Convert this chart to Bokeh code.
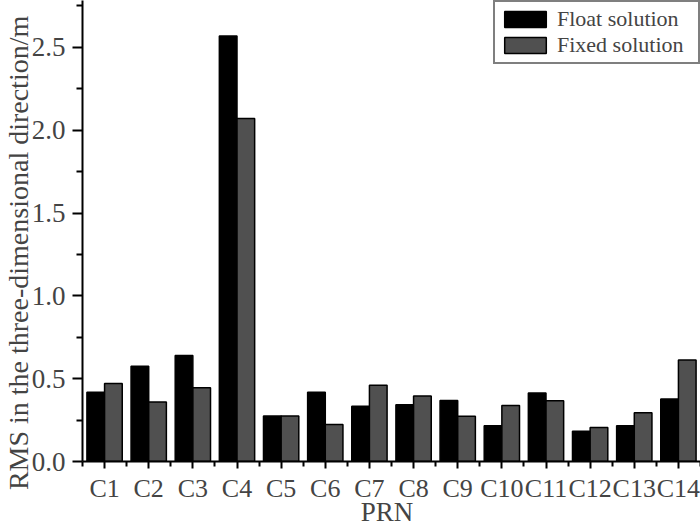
from bokeh.plotting import figure
from bokeh.models import (ColumnDataSource, FixedTicker, Legend, LegendItem,
                          NumeralTickFormatter, LinearAxis)
from bokeh.transform import dodge
from bokeh.embed import file_html
from bokeh.resources import INLINE

prn = ["C1", "C2", "C3", "C4", "C5", "C6", "C7", "C8", "C9", "C10", "C11", "C12", "C13", "C14"]
float_solution = [0.418, 0.575, 0.640, 2.569, 0.275, 0.418, 0.334, 0.342, 0.369, 0.216, 0.414, 0.183, 0.216, 0.377]
fixed_solution = [0.471, 0.359, 0.445, 2.070, 0.275, 0.224, 0.460, 0.396, 0.273, 0.338, 0.367, 0.206, 0.294, 0.612]
y_ticks = [0.0, 0.5, 1.0, 1.5, 2.0, 2.5]
y_minor = [0.25, 0.75, 1.25, 1.75, 2.25, 2.75]
x_title = "PRN"
y_title = "RMS in the three-dimensional direction/m"

pos = list(range(1, len(prn) + 1))
src = ColumnDataSource(dict(x=pos, fl=float_solution, fx=fixed_solution))

FONT = "Liberation Serif"

p = figure(width=700, height=529, output_backend="svg", toolbar_location=None,
           x_range=(0.5, len(prn) + 0.5), y_range=(0, 2.783),
           min_border_left=82, min_border_right=0, min_border_top=0, min_border_bottom=67)
p.outline_line_color = None
p.grid.grid_line_color = None
p.background_fill_color = "white"

r1 = p.vbar(x=dodge("x", -0.2, range=p.x_range), top="fl", width=0.4, source=src,
            fill_color="#000000", line_color="#000000", line_width=1.5)
r2 = p.vbar(x=dodge("x", 0.2, range=p.x_range), top="fx", width=0.4, source=src,
            fill_color="#505050", line_color="#000000", line_width=1.5)

# x axis
xa = p.xaxis[0]
xa.ticker = FixedTicker(ticks=pos, minor_ticks=[v + 0.5 for v in range(0, len(prn) + 1)])
xa.major_label_overrides = {i: name for i, name in zip(pos, prn)}
xa.major_label_text_font = FONT
xa.major_label_text_font_size = "26px"
xa.major_label_standoff = 5
xa.major_tick_in = 0
xa.major_tick_out = 7
xa.minor_tick_in = 0
xa.minor_tick_out = 5
xa.axis_line_width = 2
xa.major_tick_line_width = 2
xa.minor_tick_line_width = 2

# x title as a bare second axis (lets it sit close to the tick labels)
xt_pos = 7.4
xt = LinearAxis(ticker=FixedTicker(ticks=[xt_pos], minor_ticks=[]),
                major_label_overrides={xt_pos: x_title})
xt.axis_line_color = None
xt.major_tick_line_color = None
xt.minor_tick_line_color = None
xt.major_tick_in = 0
xt.major_tick_out = 0
xt.major_label_standoff = -9
xt.major_label_text_font = FONT
xt.major_label_text_font_size = "27px"
p.add_layout(xt, "below")

# y axis
ya = p.yaxis[0]
ya.ticker = FixedTicker(ticks=y_ticks, minor_ticks=y_minor)
ya.formatter = NumeralTickFormatter(format="0.0")
ya.major_label_text_font = FONT
ya.major_label_text_font_size = "27px"
ya.major_label_standoff = 7
ya.major_tick_in = 0
ya.major_tick_out = 10
ya.minor_tick_in = 0
ya.minor_tick_out = 6
ya.axis_line_width = 2
ya.major_tick_line_width = 2
ya.minor_tick_line_width = 2

# y title as a bare second axis, centred where the reference centres it
yt_pos = 1.259
yt = LinearAxis(ticker=FixedTicker(ticks=[yt_pos], minor_ticks=[]),
                major_label_overrides={yt_pos: y_title})
yt.axis_line_color = None
yt.major_tick_line_color = None
yt.minor_tick_line_color = None
yt.major_tick_in = 0
yt.major_tick_out = 0
yt.major_label_standoff = -6
yt.major_label_orientation = "parallel"
yt.major_label_text_font = FONT
yt.major_label_text_font_size = "28px"
p.add_layout(yt, "left")

legend = Legend(items=[LegendItem(label="Float solution", renderers=[r1]),
                       LegendItem(label="Fixed solution", renderers=[r2])],
                location="top_right", orientation="vertical")
legend.margin = 0
legend.padding = 4
legend.spacing = 0
legend.glyph_width = 52
legend.glyph_height = 20
legend.label_height = 20
legend.label_width = 137
legend.label_standoff = 6
legend.label_text_font = FONT
legend.label_text_font_size = "22px"
legend.border_line_color = "black"
legend.border_line_width = 2
legend.background_fill_alpha = 1
p.add_layout(legend, "center")

open("out.html", "w").write(file_html(p, INLINE))
